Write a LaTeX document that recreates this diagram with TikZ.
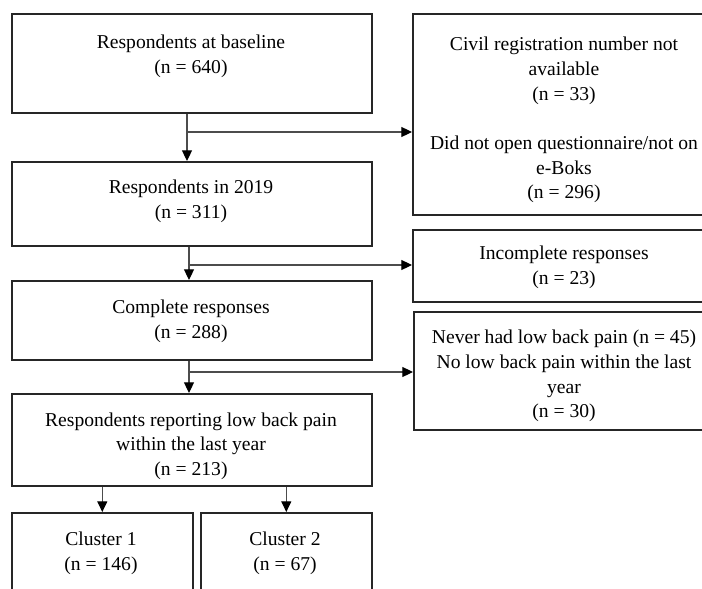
\documentclass[tikz,border=0pt]{standalone}
\usepackage{fontspec}
\setmainfont{Liberation Serif}
\usetikzlibrary{arrows.meta}
\begin{document}
\begin{tikzpicture}[x=0.75pt,y=-0.75pt,
  box/.style={draw=black!85,line width=1.2pt,inner sep=0pt,anchor=north west},
  txt/.style={align=center,inner sep=0pt,font=\fontsize{14.7pt}{18.5pt}\selectfont,text=black},
  arr/.style={draw=black!70,line width=0.8pt,-{Triangle[length=8pt,width=7.5pt,color=black]}},
  ln/.style={draw=black!70,line width=0.8pt}]
\useasboundingbox (0,0) rectangle (702,588);
\clip (0,0) rectangle (702,588);
% left column boxes
\node[box,minimum width=270pt,minimum height=74.25pt] (a) at (11,13) {};
\node[box,minimum width=270pt,minimum height=63pt] (b) at (11,161) {};
\node[box,minimum width=270pt,minimum height=59.25pt] (c) at (11,280) {};
\node[box,minimum width=270pt,minimum height=69pt] (d) at (11,393) {};
\node[box,minimum width=135.75pt,minimum height=75pt] (c1) at (11,512) {};
\node[box,minimum width=128.25pt,minimum height=75pt] (c2) at (200,512) {};
% right column boxes
\node[box,minimum width=228pt,minimum height=150.75pt] (r1) at (412,13) {};
\node[box,minimum width=228pt,minimum height=54pt] (r2) at (412,229) {};
\node[box,minimum width=228pt,minimum height=88.5pt] (r3) at (413,311) {};
% texts
\node[txt] (ta) at (191,56) {Respondents at baseline\\(n = 640)};
\node[txt] (tb) at (191,201) {Respondents in 2019\\(n = 311)};
\node[txt] (tc) at (191,321) {Complete responses\\(n = 288)};
\node[txt] (td) at (191,446) {Respondents reporting low back pain\\within the last year\\(n = 213)};
\node[txt] (tc1) at (101,553) {Cluster 1\\(n = 146)};
\node[txt] (tc2) at (285,553) {Cluster 2\\(n = 67)};
\node[txt] (tr1) at (564,120) {Civil registration number not\\available\\(n = 33)\\[18.5pt]Did not open questionnaire/not on\\e-Boks\\(n = 296)};
\node[txt] (tr2) at (564,267) {Incomplete responses\\(n = 23)};
\node[txt] (tr3) at (564,376) {Never had low back pain (n = 45)\\No low back pain within the last\\year\\(n = 30)};
% junctions
\coordinate (j1) at (187,132);
\coordinate (j2) at (189,265);
\coordinate (j3) at (189,372);
\draw[arr] (a.south -| j1) -- (b.north -| j1);
\draw[arr] (j1) -- (j1 -| r1.west);
\draw[arr] (b.south -| j2) -- (c.north -| j2);
\draw[arr] (j2) -- (j2 -| r2.west);
\draw[arr] (c.south -| j3) -- (d.north -| j3);
\draw[arr] (j3) -- (j3 -| r3.west);
\draw[arr] (d.south -| c1.north) -- (c1.north);
\draw[arr] (d.south -| c2.north) -- (c2.north);
\end{tikzpicture}
\end{document}
